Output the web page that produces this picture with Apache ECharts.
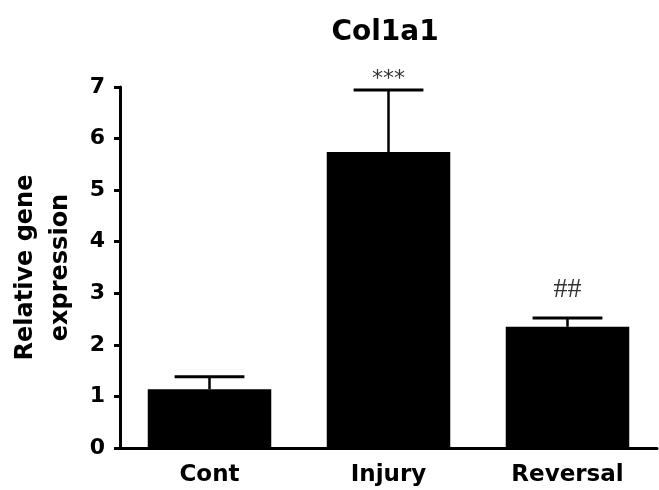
<!DOCTYPE html>
<html>
<head>
<meta charset="utf-8">
<script src="https://cdn.jsdelivr.net/npm/echarts@6/dist/echarts.min.js"></script>
<style>
  html, body { margin: 0; padding: 0; background: #fff; }
  #chart { width: 659px; height: 490px; }
</style>
</head>
<body>
<div id="chart"></div>
<script>
// Col1a1 relative expression, mean ± SEM per group
const categories = ['Cont', 'Injury', 'Reversal'];
const means = [1.14, 5.74, 2.35];
const sem = [0.24, 1.2, 0.17];
const marks = ['', '***', '##'];
const yTicks = [0, 1, 2, 3, 4, 5, 6, 7];

const chart = echarts.init(document.getElementById('chart'));
const font = '"DejaVu Sans", Arial, sans-serif';

chart.setOption({
  animation: false,
  title: {
    text: 'Col1a1',
    left: 380, top: 14, textAlign: 'center',
    textStyle: { fontFamily: font, fontWeight: 'bold', fontSize: 28, color: '#000' }
  },
  grid: { left: 119, right: 2, top: 87, bottom: 42 },
  xAxis: {
    type: 'category',
    data: categories,
    axisLine: { lineStyle: { color: '#000', width: 3 } },
    axisTick: { show: false },
    axisLabel: { fontFamily: font, fontWeight: 'bold', fontSize: 23, color: '#000', margin: 16 }
  },
  yAxis: {
    type: 'value',
    min: yTicks[0], max: yTicks[yTicks.length - 1], interval: 1,
    name: 'Relative gene\nexpression',
    nameLocation: 'middle',
    nameGap: 42,
    nameRotate: 90,
    nameTextStyle: { fontFamily: font, fontWeight: 'bold', fontSize: 24, color: '#000', lineHeight: 35 },
    splitLine: { show: false },
    axisLine: { show: true, lineStyle: { color: '#000', width: 3 } },
    axisTick: { show: true, length: 6, lineStyle: { color: '#000', width: 3 } },
    axisLabel: { fontFamily: font, fontWeight: 'bold', fontSize: 22, color: '#000', margin: 15 }
  },
  series: [
    {
      type: 'bar',
      data: means,
      barWidth: '69%',
      itemStyle: { color: '#000' },
      z: 2
    },
    {
      type: 'custom',
      data: categories.map((c, i) => [i, means[i], means[i] + sem[i]]),
      z: 3,
      renderItem: function (params, api) {
        const top = api.coord([api.value(0), api.value(2)]);
        const base = api.coord([api.value(0), api.value(1)]);
        const half = api.size([1, 0])[0] * 0.195;
        const mark = marks[params.dataIndex];
        const children = [
          { type: 'line', shape: { x1: top[0], y1: base[1], x2: top[0], y2: top[1] },
            style: { stroke: '#000', lineWidth: 2.5 } },
          { type: 'line', shape: { x1: top[0] - half, y1: top[1], x2: top[0] + half, y2: top[1] },
            style: { stroke: '#000', lineWidth: 3 } }
        ];
        if (mark) {
          const hash = mark === '##';
          children.push({
            type: 'text',
            style: {
              text: mark, x: top[0], y: top[1] - (hash ? 14 : 0),
              textAlign: 'center', textVerticalAlign: 'bottom',
              font: hash ? '28px "Liberation Serif", serif' : '22px "DejaVu Sans", sans-serif',
              fill: '#333'
            }
          });
        }
        return { type: 'group', children: children };
      }
    }
  ]
});
</script>
</body>
</html>
